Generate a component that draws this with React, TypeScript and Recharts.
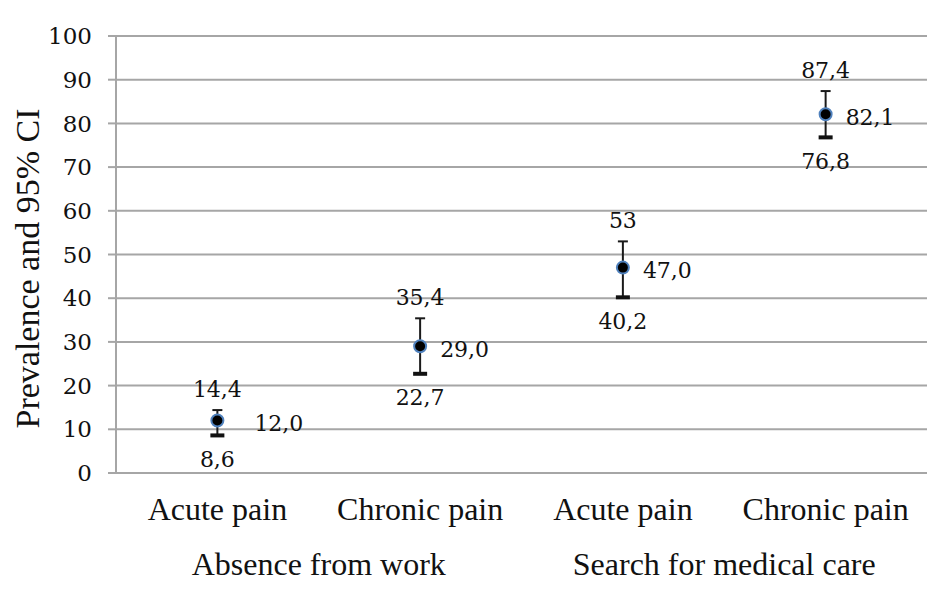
import {
  ComposedChart,
  Line,
  XAxis,
  YAxis,
  CartesianGrid,
  ErrorBar,
  LabelList
} from 'recharts';

const categories = ['Acute pain', 'Chronic pain', 'Acute pain', 'Chronic pain'];
const groups = ['Absence from work', 'Absence from work', 'Search for medical care', 'Search for medical care'];
const prevalence = [12.0, 29.0, 47.0, 82.1];
const ciLow = [8.6, 22.7, 40.2, 76.8];
const ciHigh = [14.4, 35.4, 53, 87.4];
const yTicks = [0, 10, 20, 30, 40, 50, 60, 70, 80, 90, 100];

const data = categories.map((name, i) => ({
  name,
  group: groups[i],
  mean: prevalence[i],
  low: ciLow[i],
  high: ciHigh[i],
  err: [prevalence[i] - ciLow[i], ciHigh[i] - prevalence[i]]
}));

const W = 940;
const H = 592;
const MARGIN = { top: 36, right: 13, left: 0, bottom: 0 };
const Y_WIDTH = 116;
const BAND = (W - MARGIN.left - MARGIN.right - Y_WIDTH) / categories.length;
const PAD = { left: BAND / 2, right: BAND / 2 };

const serif = '"Liberation Serif", "Times New Roman", serif';
const numFont = '"DejaVu Serif", serif';
const gridColor = '#a6a6a6';

const fmtMean = (v: any) => Number(v).toFixed(1).replace('.', ',');
const fmtCi = (v: any) =>
  Number.isInteger(Number(v)) ? String(v) : Number(v).toFixed(1).replace('.', ',');

const CategoryTick = (props: any) => {
  const { x, y, payload } = props;
  return (
    <text x={x} y={y + 47} textAnchor='middle' fontFamily={serif} fontSize={32} fill='#111'>
      {payload.value}
    </text>
  );
};

const GroupTick = (props: any) => {
  const { x, y, payload, index } = props;
  if (index % 2 !== 0) return null;
  return (
    <text x={x + BAND / 2} y={y + 40} textAnchor='middle' fontFamily={serif} fontSize={32} fill='#111'>
      {payload.value}
    </text>
  );
};

const YLabel = (props: any) => {
  const vb = props.viewBox || { y: 36, height: 436 };
  const cx = 27;
  const cy = vb.y + vb.height / 2 + 14;
  return (
    <text
      x={cx}
      y={cy}
      transform={`rotate(-90, ${cx}, ${cy})`}
      textAnchor='middle'
      dominantBaseline='central'
      fontFamily={serif}
      fontSize={34}
      fill='#111'
    >
      Prevalence and  95% CI
    </text>
  );
};

// thick lower cap of the CI whisker
const LowCap = (props: any) => {
  const { cx, cy } = props;
  if (cx == null || cy == null) return null;
  return <rect x={cx - 7} y={cy - 2} width={14} height={4} fill='#111' />;
};

// mean value to the right of the point; the first one sits a bit further out
const MeanLabel = (props: any) => {
  const { x, y, value, index } = props;
  const dx = index === 0 ? 37 : 20;
  return (
    <text
      x={x + dx}
      y={y + 3}
      dominantBaseline='central'
      fontFamily={numFont}
      fontSize={22}
      fill='#111'
    >
      {fmtMean(value)}
    </text>
  );
};

const labelStyle = { fontFamily: numFont, fontSize: 22, fill: '#111' };

export default function App() {
  return (
    <div style={{ position: 'absolute', left: 0, top: 0, background: '#fff' }}>
      <ComposedChart width={W} height={H} data={data} margin={MARGIN}>
        <CartesianGrid vertical={false} stroke={gridColor} strokeWidth={2} />
        <XAxis
          dataKey='name'
          padding={PAD}
          height={62}
          tickLine={false}
          tickSize={0}
          tickMargin={0}
          axisLine={{ stroke: gridColor, strokeWidth: 2 }}
          tick={<CategoryTick />}
          interval={0}
        />
        <XAxis
          xAxisId='group'
          dataKey='group'
          padding={PAD}
          height={57}
          tickLine={false}
          tickSize={0}
          tickMargin={0}
          axisLine={false}
          tick={<GroupTick />}
          interval={0}
        />
        <YAxis
          width={Y_WIDTH}
          domain={[0, 100]}
          ticks={yTicks}
          interval={0}
          tickSize={8}
          tickMargin={16}
          axisLine={{ stroke: gridColor, strokeWidth: 2 }}
          tickLine={{ stroke: gridColor, strokeWidth: 2 }}
          tick={{ fontFamily: numFont, fontSize: 23, fill: '#111' }}
          label={<YLabel />}
        />
        <Line
          dataKey='high'
          stroke='none'
          dot={false}
          activeDot={false}
          isAnimationActive={false}
        >
          <LabelList dataKey='high' position='top' offset={13} formatter={fmtCi} style={labelStyle} />
        </Line>
        <Line
          dataKey='mean'
          stroke='none'
          dot={{ r: 6, fill: '#000', stroke: '#4f81bd', strokeWidth: 2 }}
          activeDot={false}
          isAnimationActive={false}
        >
          <ErrorBar dataKey='err' direction='y' width={5} stroke='#1a1a1a' strokeWidth={2} />
          <LabelList dataKey='mean' content={<MeanLabel />} />
        </Line>
        <Line
          dataKey='low'
          stroke='none'
          dot={<LowCap />}
          activeDot={false}
          isAnimationActive={false}
        >
          <LabelList dataKey='low' position='bottom' offset={16} formatter={fmtCi} style={labelStyle} />
        </Line>
      </ComposedChart>
    </div>
  );
}
